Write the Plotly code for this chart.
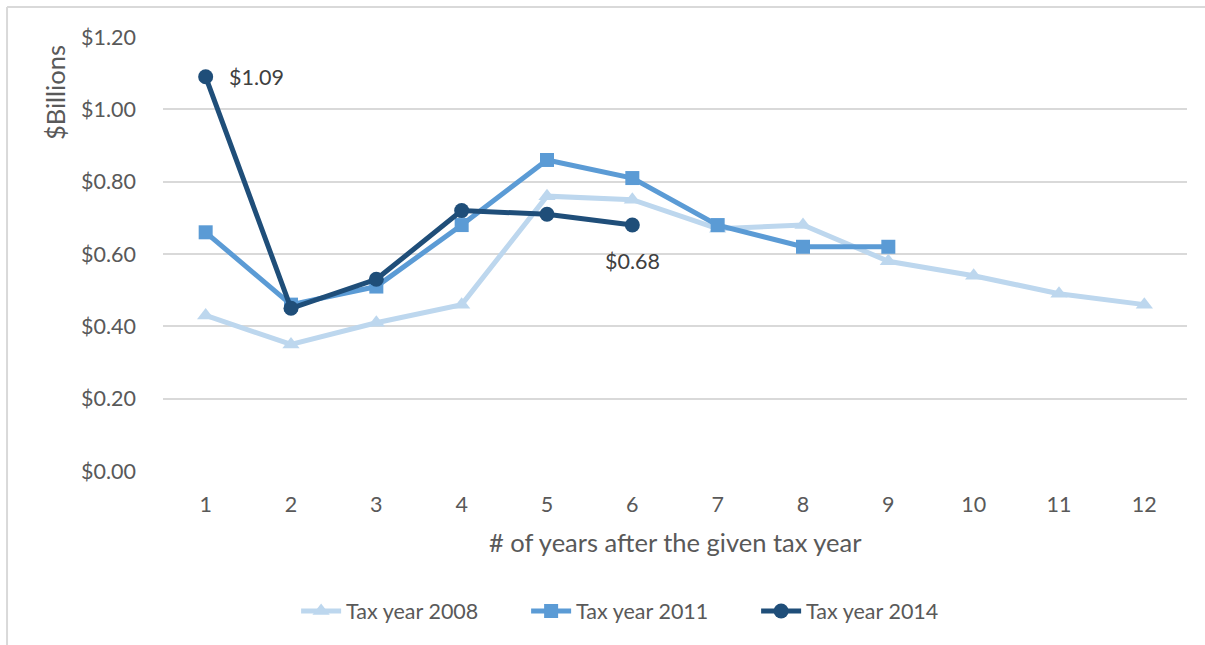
import plotly.graph_objects as go

years = list(range(1, 13))
ty2008 = [0.43, 0.35, 0.41, 0.46, 0.76, 0.75, 0.67, 0.68, 0.58, 0.54, 0.49, 0.46]
ty2011 = [0.66, 0.46, 0.51, 0.68, 0.86, 0.81, 0.68, 0.62, 0.62]
ty2014 = [1.09, 0.45, 0.53, 0.72, 0.71, 0.68]
y_ticks = [0, 0.2, 0.4, 0.6, 0.8, 1.0, 1.2]
y_ticklabels = ["$0.00", "$0.20", "$0.40", "$0.60", "$0.80", "$1.00", "$1.20"]

FONT = "Lato, Carlito, Calibri, sans-serif"
GRAY = "#595959"
FS = 21.5
TS = 25.5

fig = go.Figure()
fig.add_trace(go.Scatter(x=years[:len(ty2008)], y=ty2008, name="Tax year 2008", mode="lines+markers",
                         line=dict(color="#BDD7EE", width=5),
                         marker=dict(symbol="triangle-up", size=15, color="#BDD7EE")))
fig.add_trace(go.Scatter(x=years[:len(ty2011)], y=ty2011, name="Tax year 2011", mode="lines+markers",
                         line=dict(color="#5B9BD5", width=5),
                         marker=dict(symbol="square", size=14, color="#5B9BD5")))
fig.add_trace(go.Scatter(x=years[:len(ty2014)], y=ty2014, name="Tax year 2014", mode="lines+markers",
                         line=dict(color="#1F4E79", width=5),
                         marker=dict(symbol="circle", size=15, color="#1F4E79")))

# data labels
fig.add_annotation(x=years[0], y=ty2014[0], text=f"${ty2014[0]:.2f}", showarrow=False,
                   xanchor="left", xshift=21, font=dict(family=FONT, size=FS, color="#404040"))
fig.add_annotation(x=years[len(ty2014) - 1], y=ty2014[-1], text=f"${ty2014[-1]:.2f}", showarrow=False,
                   yshift=-36, font=dict(family=FONT, size=FS, color="#404040"))

# axis titles
fig.add_annotation(xref="paper", yref="paper", x=-0.1055, y=0.873, text="$Billions", textangle=-90,
                   xanchor="center", yanchor="middle",
                   showarrow=False, font=dict(family=FONT, size=TS, color=GRAY))
fig.add_annotation(xref="paper", yref="paper", x=0.5, y=-0.1636, text="# of years after the given tax year",
                   xanchor="center", yanchor="middle",
                   showarrow=False, font=dict(family=FONT, size=TS, color=GRAY))

# chart area border (top and left visible)
fig.add_shape(type="line", xref="paper", yref="paper", x0=-0.1523, y0=1.069, x1=1.05, y1=1.069,
              line=dict(color="#d9d9d9", width=2))
fig.add_shape(type="line", xref="paper", yref="paper", x0=-0.1523, y0=1.069, x1=-0.1523, y1=-0.45,
              line=dict(color="#d9d9d9", width=2))

fig.update_layout(
    width=1205, height=645,
    margin=dict(l=163, r=18, t=37, b=174),
    paper_bgcolor="white", plot_bgcolor="white",
    font=dict(family=FONT, size=FS, color=GRAY),
    showlegend=True,
    legend=dict(orientation="h", x=0.130, xanchor="left", y=-0.3226, yanchor="middle",
                entrywidth=175, entrywidthmode="pixels",
                font=dict(family=FONT, size=FS, color=GRAY), itemwidth=40),
    xaxis=dict(range=[0.5, 12.5], tickmode="array", tickvals=years, ticktext=[str(v) for v in years],
               showgrid=False, zeroline=False, showline=False, ticks="", ticklabelstandoff=18,
               tickfont=dict(family=FONT, size=FS, color=GRAY)),
    yaxis=dict(range=[0, 1.2], tickmode="array", tickvals=y_ticks, ticktext=y_ticklabels,
               showgrid=True, gridcolor="#d9d9d9", gridwidth=2, zeroline=False, showline=False,
               ticks="", ticklabelstandoff=26, tickfont=dict(family=FONT, size=FS, color=GRAY)),
)

fig.write_html("out.html")
